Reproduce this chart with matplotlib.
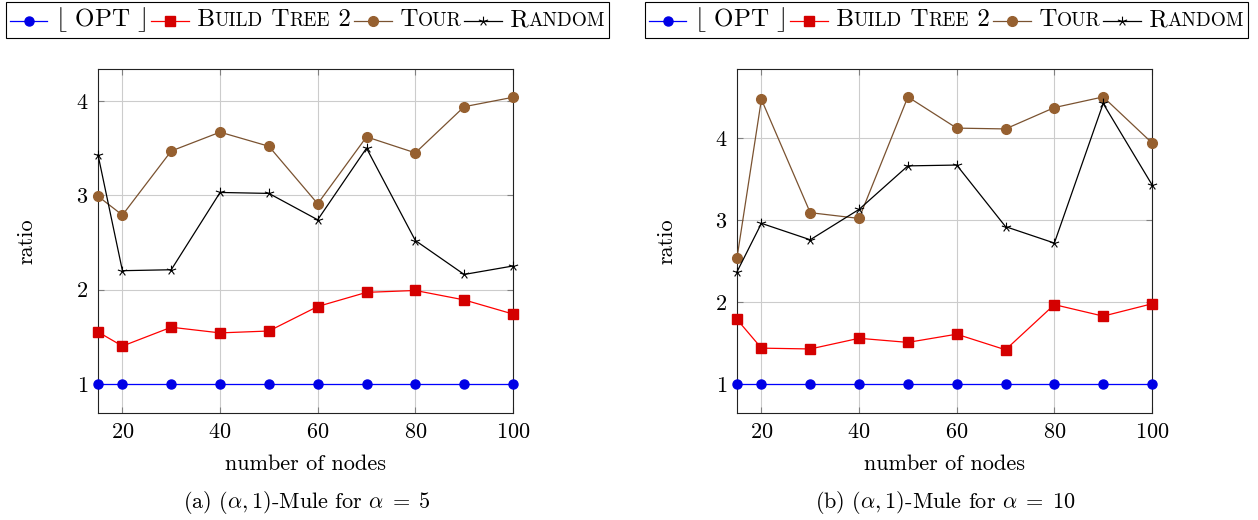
import numpy as np
import matplotlib
matplotlib.use("Agg")
import matplotlib.pyplot as plt
from matplotlib.path import Path
from matplotlib.lines import Line2D
from matplotlib.offsetbox import HPacker, TextArea, DrawingArea, AnchoredOffsetbox

plt.rcParams['font.family'] = 'serif'
plt.rcParams['font.serif'] = ['cmr10']
plt.rcParams['mathtext.fontset'] = 'cm'
plt.rcParams['axes.formatter.use_mathtext'] = True

# ---------------- data ----------------
nodes = [15, 20, 30, 40, 50, 60, 70, 80, 90, 100]

opt_a = [1, 1, 1, 1, 1, 1, 1, 1, 1, 1]
build_a = [1.55, 1.40, 1.60, 1.54, 1.56, 1.82, 1.97, 1.99, 1.89, 1.74]
tour_a = [2.99, 2.79, 3.47, 3.67, 3.52, 2.91, 3.62, 3.45, 3.94, 4.04]
random_a = [3.43, 2.20, 2.21, 3.03, 3.02, 2.74, 3.50, 2.52, 2.16, 2.25]

opt_b = [1, 1, 1, 1, 1, 1, 1, 1, 1, 1]
build_b = [1.79, 1.44, 1.43, 1.56, 1.51, 1.61, 1.42, 1.97, 1.83, 1.98]
tour_b = [2.54, 4.47, 3.09, 3.02, 4.50, 4.12, 4.11, 4.37, 4.50, 3.94]
random_b = [2.37, 2.96, 2.76, 3.13, 3.66, 3.67, 2.92, 2.72, 4.42, 3.43]

xticks = [20, 40, 60, 80, 100]
yticks = [1, 2, 3, 4]
xlabel = "number of nodes"
ylabel = "ratio"
captions = [r"(a) $(\alpha, 1)$-Mule for $\alpha\;=\;5$",
            r"(b) $(\alpha, 1)$-Mule for $\alpha\;=\;10$"]

# ---------------- styles ----------------
FS = 16
LFS = 18
brown_line = '#7a5230'
brown_fill = '#966030'

# pgfplots "star" marker: 5 spokes
verts, codes = [], []
for k in range(5):
    a = np.deg2rad(90 + 72 * k)
    verts += [(0, 0), (np.cos(a), np.sin(a))]
    codes += [Path.MOVETO, Path.LINETO]
star_path = Path(verts, codes)

styles = [
    dict(color='blue', marker='o', ms=6.5, mfc='#0000e6', mec='#0000e6'),
    dict(color='red', marker='s', ms=6.5, mfc='#d40000', mec='#d40000'),
    dict(color=brown_line, marker='o', ms=7, mfc=brown_fill, mec=brown_fill),
    dict(color='black', marker=star_path, ms=7, mfc='none', mec='black', mew=0.8),
]

W, H = 1258, 520
fig = plt.figure(figsize=(W / 100, H / 100), dpi=100)

panels = [
    dict(rect=(98, 69, 513, 413), ylim=(0.69, 4.34),
         series=[opt_a, build_a, tour_a, random_a], caption=captions[0], ylab_x=27),
    dict(rect=(737, 69, 1152, 413), ylim=(0.65, 4.84),
         series=[opt_b, build_b, tour_b, random_b], caption=captions[1], ylab_x=667),
]


def make_handle(st):
    da = DrawingArea(27, 8, 0, 0)
    da.add_artist(Line2D([0, 27], [4, 4], color=st['color'], lw=0.9))
    kw = dict(st)
    kw.pop('color')
    da.add_artist(Line2D([13.5], [4], linestyle='none', color=st['color'], **kw))
    return da


def txt(s, size):
    return TextArea(s, textprops=dict(fontsize=size, family='serif'))


for p in panels:
    x0, y0, x1, y1 = p['rect']
    ax = fig.add_axes([x0 / W, 1 - y1 / H, (x1 - x0) / W, (y1 - y0) / H])
    for vals, st in zip(p['series'], styles):
        ax.plot(nodes, vals, lw=0.9, zorder=3, clip_on=False, **st)
    ax.set_xlim(15, 100)
    ax.set_ylim(*p['ylim'])
    ax.set_xticks(xticks)
    ax.set_yticks(yticks)
    ax.grid(True, color='#cccccc', lw=0.8, zorder=0)
    ax.set_axisbelow(True)
    ax.tick_params(direction='in', length=4.5, width=0.8, color='#808080',
                   top=True, right=True, labelsize=FS, pad=7)
    for sp in ax.spines.values():
        sp.set_linewidth(0.8)
        sp.set_color('#222222')

    cx = (x0 + x1) / 2 / W
    fig.text(cx, 1 - 470 / H, xlabel, ha='center', va='baseline', fontsize=FS)
    fig.text(cx + 1 / W, 1 - 508 / H, p['caption'], ha='center', va='baseline', fontsize=FS)
    fig.text(p['ylab_x'] / W, 1 - 241 / H, ylabel, ha='center', va='center',
             rotation=90, fontsize=FS)

    big, small = LFS, LFS * 0.77
    items = [
        make_handle(styles[0]), txt(r" $\lfloor$ OPT $\rfloor$ ", big),
        make_handle(styles[1]), txt(" B", big), txt("UILD", small), txt(" T", big), txt("REE", small), txt(" 2", big),
        txt(" ", LFS * 0.4),
        make_handle(styles[2]), txt(" T", big), txt("OUR", small), txt(" ", LFS * 0.3),
        make_handle(styles[3]), txt(" R", big), txt("ANDOM", small),
    ]
    pack = HPacker(children=items, align='baseline', pad=0, sep=0)
    anch = AnchoredOffsetbox(loc='center', child=pack, pad=0.25, borderpad=0,
                             frameon=True, bbox_to_anchor=(cx + 2 / W, 1 - 20 / H),
                             bbox_transform=fig.transFigure)
    anch.patch.set_edgecolor('black')
    anch.patch.set_linewidth(0.8)
    anch.patch.set_boxstyle('square', pad=0)
    fig.add_artist(anch)

fig.savefig('out.png', dpi=100)
